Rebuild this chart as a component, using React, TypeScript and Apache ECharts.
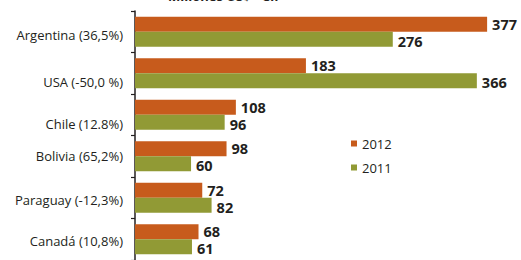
import React, { useEffect, useRef } from "react";
import * as echarts from "echarts";

const categories = [
  "Argentina (36,5%)",
  "USA (-50,0 %)",
  "Chile (12.8%)",
  "Bolivia (65,2%)",
  "Paraguay (-12,3%)",
  "Canadá (10,8%)",
];
const values2012 = [377, 183, 108, 98, 72, 68];
const values2011 = [276, 366, 96, 60, 82, 61];
const seriesNames = ["2012", "2011"];
const titleText = "Millones US$ - CIF";

const FONT = "'Open Sans', 'Noto Sans', sans-serif";
const TEXT = "#231f20";
// downward nudge of each category label, in pixels (style only)
const labelNudge = [3, 9, 9, 0, 2, 2];

export default function App() {
  const ref = useRef<HTMLDivElement>(null);
  useEffect(() => {
    document.body.style.margin = "0";
    if (!ref.current) return;
    const chart = echarts.init(ref.current, null, { renderer: "svg" });
    const valueLabel = {
      show: true,
      position: "right",
      distance: 5,
      fontFamily: FONT,
      fontSize: 14.5,
      fontWeight: "bold",
      color: TEXT,
    };
    const rich: Record<string, any> = {};
    labelNudge.forEach((n, i) => {
      rich["c" + i] = {
        fontFamily: FONT,
        fontSize: 13,
        color: TEXT,
        padding: [n * 2, 0, 0, 0],
      };
    });
    chart.setOption({
      animation: false,
      backgroundColor: "#ffffff",
      title: {
        text: titleText,
        left: 168,
        top: -11,
        padding: 0,
        textStyle: { fontFamily: FONT, fontSize: 13, fontWeight: "bold", color: TEXT },
      },
      legend: {
        orient: "vertical",
        left: 346,
        top: 132,
        itemWidth: 6,
        itemHeight: 6,
        itemGap: 11,
        icon: "rect",
        data: seriesNames,
        textStyle: { fontFamily: FONT, fontSize: 13, color: TEXT },
      },
      grid: { left: 135, top: 11, width: 373.6, height: 252, containLabel: false },
      xAxis: {
        type: "value",
        min: 0,
        max: 400,
        show: false,
      },
      yAxis: {
        type: "category",
        inverse: true,
        data: categories,
        axisLine: { show: true, lineStyle: { color: TEXT, width: 1.5 } },
        axisTick: { show: true, length: 4, lineStyle: { color: TEXT, width: 1.2 } },
        axisLabel: {
          margin: 12,
          fontFamily: FONT,
          fontSize: 13,
          color: TEXT,
          formatter: (v: string) => {
            const i = categories.indexOf(v);
            return "{c" + i + "|" + v + "}";
          },
          rich,
        },
        splitLine: { show: false },
      },
      series: [
        {
          name: seriesNames[0],
          type: "bar",
          data: values2012,
          barWidth: 15,
          barGap: "0%",
          itemStyle: { color: "#C75B1C" },
          label: valueLabel,
        },
        {
          name: seriesNames[1],
          type: "bar",
          data: values2011,
          barWidth: 15,
          barGap: "0%",
          itemStyle: { color: "#919A35" },
          label: { ...valueLabel, offset: [0, 2] },
        },
      ],
    });
    return () => chart.dispose();
  }, []);
  return <div ref={ref} style={{ width: 521, height: 260 }} />;
}
